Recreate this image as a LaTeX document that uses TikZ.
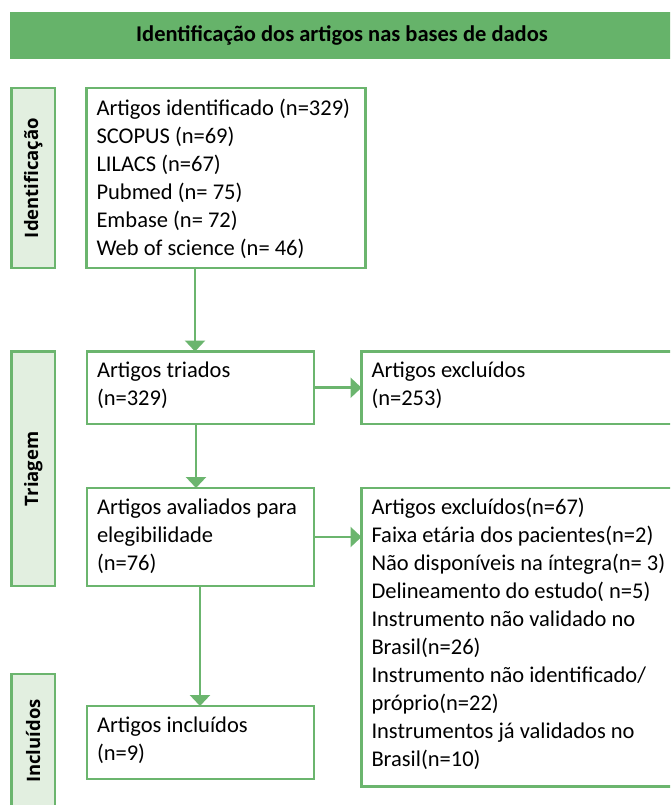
\documentclass[tikz,border=0pt]{standalone}
\usepackage{fontspec}
\setmainfont{Carlito}
\newfontfamily\sidefont{Open Sans}
\usetikzlibrary{arrows.meta,calc}
\definecolor{gline}{HTML}{6BB56E}
\definecolor{hfill}{HTML}{66B36A}
\definecolor{sfill}{HTML}{E2EFE0}
\tikzset{
  boxnode/.style={draw=gline, line width=2.6pt, fill=white, inner sep=0pt, outer sep=0pt, anchor=north west},
  sidenode/.style={draw=gline, line width=2.6pt, fill=sfill, inner sep=0pt, outer sep=0pt, anchor=north west},
  txt/.style={font=\fontsize{22.5}{28}\selectfont, align=left, inner sep=0pt, outer sep=0pt, anchor=base west},
  sidelbl/.style={font=\sidefont\bfseries\fontsize{18.5}{22}\selectfont, rotate=90, inner sep=0pt},
  arr/.style={draw=gline, line width=2.6pt, -{Triangle[length=11pt,width=20pt]}},
}
\begin{document}
\begin{tikzpicture}[x=1pt,y=-1pt]
\useasboundingbox (0,0) rectangle (670,805);
\clip (0,0) rectangle (670,805);
% header
\node[fill=hfill, inner sep=0pt, outer sep=0pt, anchor=north west, minimum width=664pt, minimum height=47pt] (hd) at (10,12) {};
\node[font=\bfseries\fontsize{22.5}{26}\selectfont, inner sep=0pt] (ht) at (hd.center) {Identificação dos artigos nas bases de dados};
% side boxes
\node[sidenode, minimum width=43.5pt, minimum height=180pt] (s1) at (11.5,88) {};
\node[sidenode, minimum width=43.5pt, minimum height=234.5pt] (s2) at (11.5,351.5) {};
\node[sidenode, minimum width=43.5pt, minimum height=160pt] (s3) at (11.5,674) {};
\node[sidelbl] (l1) at (s1.center) {Identificação};
\node[sidelbl] (l2) at (s2.center) {Triagem};
\node[sidelbl] (l3) at ($(s3.north)+(0,67)$) {Incluídos};
% boxes
\node[boxnode, minimum width=279pt, minimum height=180pt] (b1) at (86.5,88) {};
\node[boxnode, minimum width=227pt, minimum height=72.5pt] (tri) at (87,351.5) {};
\node[boxnode, minimum width=330pt, minimum height=72.5pt] (ex1) at (361.5,351.5) {};
\node[boxnode, minimum width=227pt, minimum height=98pt] (av) at (87,488) {};
\node[boxnode, minimum width=330pt, minimum height=298.5pt] (ex2) at (361.5,488) {};
\node[boxnode, minimum width=227pt, minimum height=73pt] (inc) at (87,706) {};
% texts (anchor = baseline of last line)
\node[txt] (t1) at ($(b1.north west)+(10,167)$) {Artigos identificado (n=329)\\SCOPUS (n=69)\\LILACS (n=67)\\Pubmed (n= 75)\\Embase (n= 72)\\Web of science (n= 46)};
\node[txt] (t2) at ($(tri.north west)+(10,54)$) {Artigos triados\\(n=329)};
\node[txt] (t3) at ($(ex1.north west)+(10,54)$) {Artigos excluídos\\(n=253)};
\node[txt] (t4) at ($(av.north west)+(10,82)$) {Artigos avaliados para\\elegibilidade\\(n=76)};
\node[txt] (t5) at ($(ex2.north west)+(10,278)$) {Artigos excluídos(n=67)\\Faixa etária dos pacientes(n=2)\\Não disponíveis na íntegra(n= 3)\\Delineamento do estudo( n=5)\\Instrumento não validado no\\Brasil(n=26)\\Instrumento não identificado/\\próprio(n=22)\\Instrumentos já validados no\\Brasil(n=10)};
\node[txt] (t6) at ($(inc.north west)+(10,54)$) {Artigos incluídos\\(n=9)};
% connectors
\coordinate (x1) at (195,0);
\coordinate (x2) at (196,0);
\coordinate (x3) at (200,0);
\draw[arr] (b1.south -| x1) -- (tri.north -| x1);
\draw[arr] (tri.south -| x2) -- (av.north -| x2);
\draw[arr] (av.south -| x3) -- (inc.north -| x3);
\draw[arr] (tri.east) -- (ex1.west);
\draw[arr] (av.east) -- (av.east -| ex2.west);
\end{tikzpicture}
\end{document}
